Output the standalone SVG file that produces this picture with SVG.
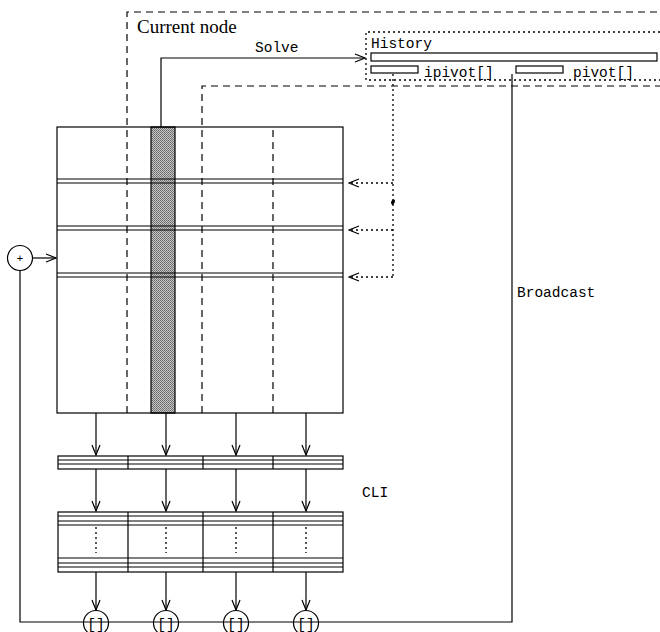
<svg xmlns="http://www.w3.org/2000/svg" width="660" height="632" viewBox="0 0 660 632">
<style>
.ln{stroke:#000;stroke-width:1.2;fill:none}
.dash{stroke:#000;stroke-width:1.2;fill:none;stroke-dasharray:7 5}
.dot{stroke:#000;stroke-width:1.3;fill:none;stroke-dasharray:2 3}
.mono{font-family:"Liberation Mono","DejaVu Sans Mono",monospace;font-size:14.5px;fill:#000}
.serif{font-family:"Liberation Serif","DejaVu Serif",serif;font-size:19px;fill:#000}
</style>
<defs>
<marker id="ah" markerWidth="12" markerHeight="10" refX="11" refY="5" orient="auto" markerUnits="userSpaceOnUse">
<path d="M1,1 L11,5 L1,9" fill="none" stroke="#000" stroke-width="1.2"/>
</marker>
<pattern id="shade" width="2" height="2" patternUnits="userSpaceOnUse">
<rect width="2" height="2" fill="#c4c4c4"/>
<rect width="1" height="1" fill="#6a6a6a"/>
<rect x="1" y="1" width="1" height="1" fill="#7a7a7a"/>
</pattern>
</defs>

<g id="current-node">
<path class="dash" d="M127,413 V12 H660"/>
<text class="serif" x="137" y="33">Current node</text>
</g>

<g id="inner-region">
<path class="dash" d="M202,413 V86 H660"/>
</g>

<g id="history">
<path class="dot" d="M660,32 H366 V80 H660"/>
<text class="mono" x="371" y="48">History</text>
<rect class="ln" x="371" y="53" width="286" height="8"/>
<rect class="ln" x="371" y="66" width="47" height="7"/>
<text class="mono" x="424" y="77">ipivot[]</text>
<rect class="ln" x="516" y="66" width="47" height="7"/>
<text class="mono" x="573" y="77">pivot[]</text>
</g>

<g id="matrix">
<rect x="151" y="127" width="24" height="286" fill="url(#shade)" stroke="#000" stroke-width="1.2"/>
<rect class="ln" x="57" y="127" width="286" height="286"/>
<line class="dash" x1="273" y1="130" x2="273" y2="413"/>
<path class="ln" d="M57,179 H343 M57,183 H343 M57,226 H343 M57,230 H343 M57,273 H343 M57,277 H343"/>
</g>

<g id="plus">
<circle class="ln" cx="20" cy="258" r="12.5" fill="#fff"/>
<text x="20" y="262" text-anchor="middle" font-family="Liberation Sans, sans-serif" font-size="11">+</text>
</g>

<g id="band1">
<rect class="ln" x="58" y="456" width="285" height="13"/>
<path class="ln" d="M58,460 H343 M58,464 H343 M128,456 V469 M203,456 V469 M273,456 V469"/>
</g>

<g id="band2">
<rect class="ln" x="58" y="512" width="285" height="60"/>
<path class="ln" d="M58,516 H343 M58,521 H343 M58,525 H343 M58,558 H343 M58,563 H343 M58,567 H343 M128,512 V572 M203,512 V572 M273,512 V572"/>
<path class="dot" d="M96,527 V553 M166,527 V553 M236,527 V553 M306,527 V553"/>
</g>

<g id="connectors">
<path class="ln" d="M161,127 V58 H365" marker-end="url(#ah)"/>
<path class="dot" d="M393,74 V277"/>
<path class="dot" d="M393,183 H349" marker-end="url(#ah)"/>
<path class="dot" d="M393,230 H349" marker-end="url(#ah)"/>
<path class="dot" d="M393,277 H349" marker-end="url(#ah)"/>
<ellipse cx="393" cy="202" rx="1.8" ry="2.8" transform="rotate(25 393 202)" fill="#000"/>
<path class="ln" d="M33,258 H56" marker-end="url(#ah)"/>
<path class="ln" d="M20,270.5 V622 H512 V74"/>
<line class="ln" x1="96" y1="413" x2="96" y2="455" marker-end="url(#ah)"/>
<line class="ln" x1="166" y1="413" x2="166" y2="455" marker-end="url(#ah)"/>
<line class="ln" x1="236" y1="413" x2="236" y2="455" marker-end="url(#ah)"/>
<line class="ln" x1="306" y1="413" x2="306" y2="455" marker-end="url(#ah)"/>
<line class="ln" x1="96" y1="469" x2="96" y2="511" marker-end="url(#ah)"/>
<line class="ln" x1="166" y1="469" x2="166" y2="511" marker-end="url(#ah)"/>
<line class="ln" x1="236" y1="469" x2="236" y2="511" marker-end="url(#ah)"/>
<line class="ln" x1="306" y1="469" x2="306" y2="511" marker-end="url(#ah)"/>
<line class="ln" x1="96" y1="572" x2="96" y2="610" marker-end="url(#ah)"/>
<line class="ln" x1="166" y1="572" x2="166" y2="610" marker-end="url(#ah)"/>
<line class="ln" x1="236" y1="572" x2="236" y2="610" marker-end="url(#ah)"/>
<line class="ln" x1="306" y1="572" x2="306" y2="610" marker-end="url(#ah)"/>
<text class="mono" x="517" y="297">Broadcast</text>
<text class="mono" x="362" y="497">CLI</text>
<text class="mono" x="255" y="52">Solve</text>
</g>

<g id="c1"><circle class="ln" cx="96" cy="623" r="12.5" fill="#fff"/><text class="mono" x="96" y="629" text-anchor="middle" font-size="13">[]</text></g>
<g id="c2"><circle class="ln" cx="166" cy="623" r="12.5" fill="#fff"/><text class="mono" x="166" y="629" text-anchor="middle" font-size="13">[]</text></g>
<g id="c3"><circle class="ln" cx="236" cy="623" r="12.5" fill="#fff"/><text class="mono" x="236" y="629" text-anchor="middle" font-size="13">[]</text></g>
<g id="c4"><circle class="ln" cx="306" cy="623" r="12.5" fill="#fff"/><text class="mono" x="306" y="629" text-anchor="middle" font-size="13">[]</text></g>
</svg>
